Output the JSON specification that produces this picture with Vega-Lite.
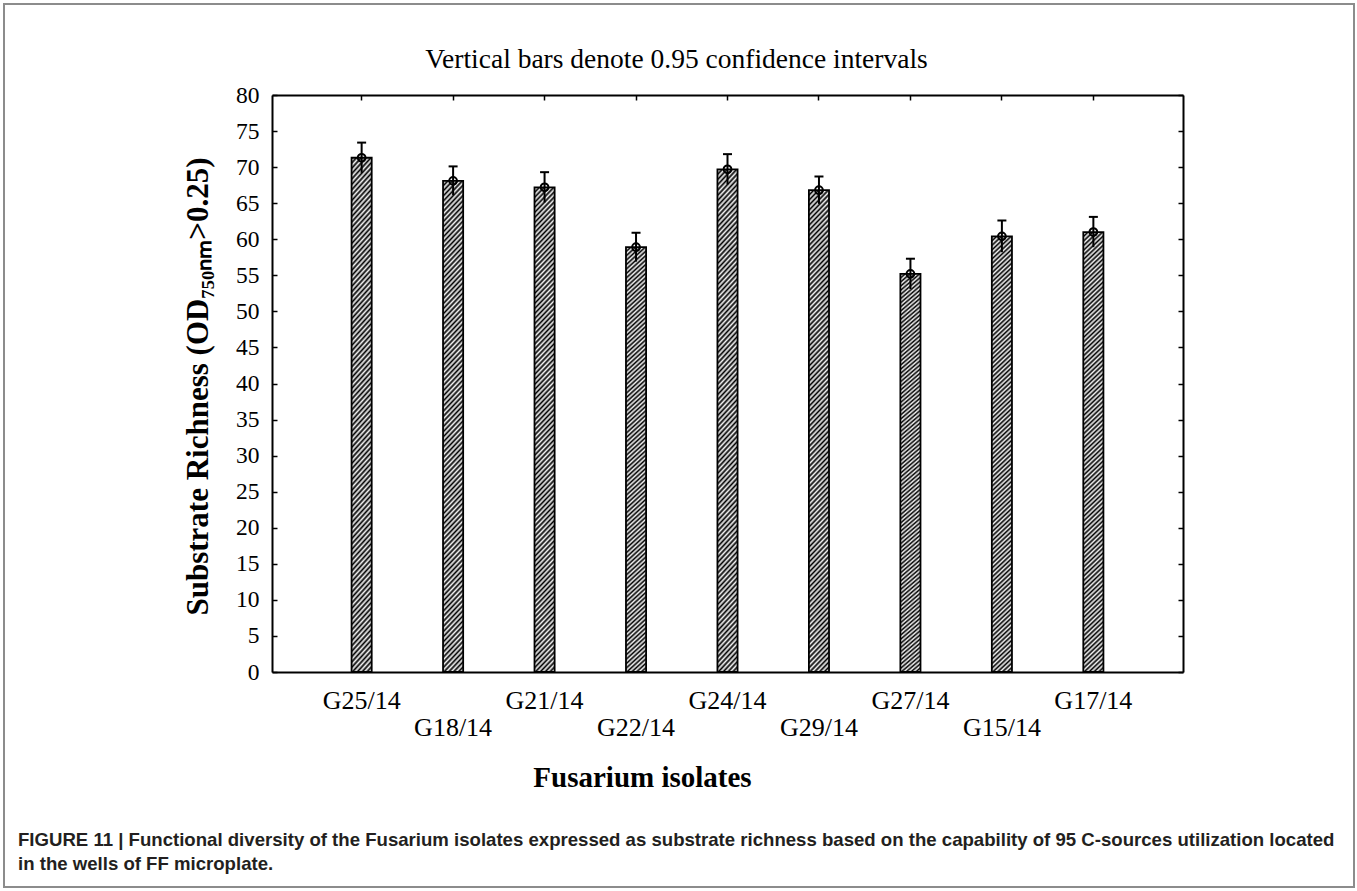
{
  "$schema": "https://vega.github.io/schema/vega-lite/v6.json",
  "autosize": "none",
  "width": 1350,
  "height": 883,
  "padding": {"left": 4, "top": 4, "right": 3, "bottom": 4},
  "background": "#ffffff",
  "title": {
    "text": ["FIGURE 11 | Functional diversity of the Fusarium isolates expressed as substrate richness based on the capability of 95 C-sources utilization located", "in the wells of FF microplate."],
    "orient": "bottom", "anchor": "start", "frame": "group", "offset": -56, "dx": 14,
    "font": "Liberation Sans", "fontSize": 18.6, "fontWeight": "bold", "color": "#231f20", "lineHeight": 24, "baseline": "top"
  },
  "data": {"values": [
    {"isolate": "G25/14", "mean": 71.3, "lower": 69.2, "upper": 73.4},
    {"isolate": "G18/14", "mean": 68.1, "lower": 66.1, "upper": 70.1},
    {"isolate": "G21/14", "mean": 67.2, "lower": 65.1, "upper": 69.3},
    {"isolate": "G22/14", "mean": 58.9, "lower": 56.9, "upper": 60.9},
    {"isolate": "G24/14", "mean": 69.7, "lower": 67.6, "upper": 71.8},
    {"isolate": "G29/14", "mean": 66.8, "lower": 64.9, "upper": 68.7},
    {"isolate": "G27/14", "mean": 55.2, "lower": 53.1, "upper": 57.3},
    {"isolate": "G15/14", "mean": 60.4, "lower": 58.2, "upper": 62.6},
    {"isolate": "G17/14", "mean": 61.0, "lower": 58.9, "upper": 63.1}
  ]},
  "resolve": {"axis": {"x": "independent", "y": "independent"}},
  "layer": [
    {
      "mark": {"type": "bar", "stroke": "#000", "strokeWidth": 1.8,
        "fill": {"gradient": "linear", "x1": 0, "y1": 0, "x2": 0.0453, "y2": 1.0415, "stops": [
{"offset":0,"color":"#000"},{"offset":0.005,"color":"#f4f4f4"},{"offset":0.01,"color":"#000"},{"offset":0.015,"color":"#f4f4f4"},{"offset":0.02,"color":"#000"},{"offset":0.025,"color":"#f4f4f4"},{"offset":0.03,"color":"#000"},{"offset":0.035,"color":"#f4f4f4"},{"offset":0.04,"color":"#000"},{"offset":0.045,"color":"#f4f4f4"},
{"offset":0.05,"color":"#000"},{"offset":0.055,"color":"#f4f4f4"},{"offset":0.06,"color":"#000"},{"offset":0.065,"color":"#f4f4f4"},{"offset":0.07,"color":"#000"},{"offset":0.075,"color":"#f4f4f4"},{"offset":0.08,"color":"#000"},{"offset":0.085,"color":"#f4f4f4"},{"offset":0.09,"color":"#000"},{"offset":0.095,"color":"#f4f4f4"},
{"offset":0.10,"color":"#000"},{"offset":0.105,"color":"#f4f4f4"},{"offset":0.11,"color":"#000"},{"offset":0.115,"color":"#f4f4f4"},{"offset":0.12,"color":"#000"},{"offset":0.125,"color":"#f4f4f4"},{"offset":0.13,"color":"#000"},{"offset":0.135,"color":"#f4f4f4"},{"offset":0.14,"color":"#000"},{"offset":0.145,"color":"#f4f4f4"},
{"offset":0.15,"color":"#000"},{"offset":0.155,"color":"#f4f4f4"},{"offset":0.16,"color":"#000"},{"offset":0.165,"color":"#f4f4f4"},{"offset":0.17,"color":"#000"},{"offset":0.175,"color":"#f4f4f4"},{"offset":0.18,"color":"#000"},{"offset":0.185,"color":"#f4f4f4"},{"offset":0.19,"color":"#000"},{"offset":0.195,"color":"#f4f4f4"},
{"offset":0.20,"color":"#000"},{"offset":0.205,"color":"#f4f4f4"},{"offset":0.21,"color":"#000"},{"offset":0.215,"color":"#f4f4f4"},{"offset":0.22,"color":"#000"},{"offset":0.225,"color":"#f4f4f4"},{"offset":0.23,"color":"#000"},{"offset":0.235,"color":"#f4f4f4"},{"offset":0.24,"color":"#000"},{"offset":0.245,"color":"#f4f4f4"},
{"offset":0.25,"color":"#000"},{"offset":0.255,"color":"#f4f4f4"},{"offset":0.26,"color":"#000"},{"offset":0.265,"color":"#f4f4f4"},{"offset":0.27,"color":"#000"},{"offset":0.275,"color":"#f4f4f4"},{"offset":0.28,"color":"#000"},{"offset":0.285,"color":"#f4f4f4"},{"offset":0.29,"color":"#000"},{"offset":0.295,"color":"#f4f4f4"},
{"offset":0.30,"color":"#000"},{"offset":0.305,"color":"#f4f4f4"},{"offset":0.31,"color":"#000"},{"offset":0.315,"color":"#f4f4f4"},{"offset":0.32,"color":"#000"},{"offset":0.325,"color":"#f4f4f4"},{"offset":0.33,"color":"#000"},{"offset":0.335,"color":"#f4f4f4"},{"offset":0.34,"color":"#000"},{"offset":0.345,"color":"#f4f4f4"},
{"offset":0.35,"color":"#000"},{"offset":0.355,"color":"#f4f4f4"},{"offset":0.36,"color":"#000"},{"offset":0.365,"color":"#f4f4f4"},{"offset":0.37,"color":"#000"},{"offset":0.375,"color":"#f4f4f4"},{"offset":0.38,"color":"#000"},{"offset":0.385,"color":"#f4f4f4"},{"offset":0.39,"color":"#000"},{"offset":0.395,"color":"#f4f4f4"},
{"offset":0.40,"color":"#000"},{"offset":0.405,"color":"#f4f4f4"},{"offset":0.41,"color":"#000"},{"offset":0.415,"color":"#f4f4f4"},{"offset":0.42,"color":"#000"},{"offset":0.425,"color":"#f4f4f4"},{"offset":0.43,"color":"#000"},{"offset":0.435,"color":"#f4f4f4"},{"offset":0.44,"color":"#000"},{"offset":0.445,"color":"#f4f4f4"},
{"offset":0.45,"color":"#000"},{"offset":0.455,"color":"#f4f4f4"},{"offset":0.46,"color":"#000"},{"offset":0.465,"color":"#f4f4f4"},{"offset":0.47,"color":"#000"},{"offset":0.475,"color":"#f4f4f4"},{"offset":0.48,"color":"#000"},{"offset":0.485,"color":"#f4f4f4"},{"offset":0.49,"color":"#000"},{"offset":0.495,"color":"#f4f4f4"},
{"offset":0.50,"color":"#000"},{"offset":0.505,"color":"#f4f4f4"},{"offset":0.51,"color":"#000"},{"offset":0.515,"color":"#f4f4f4"},{"offset":0.52,"color":"#000"},{"offset":0.525,"color":"#f4f4f4"},{"offset":0.53,"color":"#000"},{"offset":0.535,"color":"#f4f4f4"},{"offset":0.54,"color":"#000"},{"offset":0.545,"color":"#f4f4f4"},
{"offset":0.55,"color":"#000"},{"offset":0.555,"color":"#f4f4f4"},{"offset":0.56,"color":"#000"},{"offset":0.565,"color":"#f4f4f4"},{"offset":0.57,"color":"#000"},{"offset":0.575,"color":"#f4f4f4"},{"offset":0.58,"color":"#000"},{"offset":0.585,"color":"#f4f4f4"},{"offset":0.59,"color":"#000"},{"offset":0.595,"color":"#f4f4f4"},
{"offset":0.60,"color":"#000"},{"offset":0.605,"color":"#f4f4f4"},{"offset":0.61,"color":"#000"},{"offset":0.615,"color":"#f4f4f4"},{"offset":0.62,"color":"#000"},{"offset":0.625,"color":"#f4f4f4"},{"offset":0.63,"color":"#000"},{"offset":0.635,"color":"#f4f4f4"},{"offset":0.64,"color":"#000"},{"offset":0.645,"color":"#f4f4f4"},
{"offset":0.65,"color":"#000"},{"offset":0.655,"color":"#f4f4f4"},{"offset":0.66,"color":"#000"},{"offset":0.665,"color":"#f4f4f4"},{"offset":0.67,"color":"#000"},{"offset":0.675,"color":"#f4f4f4"},{"offset":0.68,"color":"#000"},{"offset":0.685,"color":"#f4f4f4"},{"offset":0.69,"color":"#000"},{"offset":0.695,"color":"#f4f4f4"},
{"offset":0.70,"color":"#000"},{"offset":0.705,"color":"#f4f4f4"},{"offset":0.71,"color":"#000"},{"offset":0.715,"color":"#f4f4f4"},{"offset":0.72,"color":"#000"},{"offset":0.725,"color":"#f4f4f4"},{"offset":0.73,"color":"#000"},{"offset":0.735,"color":"#f4f4f4"},{"offset":0.74,"color":"#000"},{"offset":0.745,"color":"#f4f4f4"},
{"offset":0.75,"color":"#000"},{"offset":0.755,"color":"#f4f4f4"},{"offset":0.76,"color":"#000"},{"offset":0.765,"color":"#f4f4f4"},{"offset":0.77,"color":"#000"},{"offset":0.775,"color":"#f4f4f4"},{"offset":0.78,"color":"#000"},{"offset":0.785,"color":"#f4f4f4"},{"offset":0.79,"color":"#000"},{"offset":0.795,"color":"#f4f4f4"},
{"offset":0.80,"color":"#000"},{"offset":0.805,"color":"#f4f4f4"},{"offset":0.81,"color":"#000"},{"offset":0.815,"color":"#f4f4f4"},{"offset":0.82,"color":"#000"},{"offset":0.825,"color":"#f4f4f4"},{"offset":0.83,"color":"#000"},{"offset":0.835,"color":"#f4f4f4"},{"offset":0.84,"color":"#000"},{"offset":0.845,"color":"#f4f4f4"},
{"offset":0.85,"color":"#000"},{"offset":0.855,"color":"#f4f4f4"},{"offset":0.86,"color":"#000"},{"offset":0.865,"color":"#f4f4f4"},{"offset":0.87,"color":"#000"},{"offset":0.875,"color":"#f4f4f4"},{"offset":0.88,"color":"#000"},{"offset":0.885,"color":"#f4f4f4"},{"offset":0.89,"color":"#000"},{"offset":0.895,"color":"#f4f4f4"},
{"offset":0.90,"color":"#000"},{"offset":0.905,"color":"#f4f4f4"},{"offset":0.91,"color":"#000"},{"offset":0.915,"color":"#f4f4f4"},{"offset":0.92,"color":"#000"},{"offset":0.925,"color":"#f4f4f4"},{"offset":0.93,"color":"#000"},{"offset":0.935,"color":"#f4f4f4"},{"offset":0.94,"color":"#000"},{"offset":0.945,"color":"#f4f4f4"},
{"offset":0.95,"color":"#000"},{"offset":0.955,"color":"#f4f4f4"},{"offset":0.96,"color":"#000"},{"offset":0.965,"color":"#f4f4f4"},{"offset":0.97,"color":"#000"},{"offset":0.975,"color":"#f4f4f4"},{"offset":0.98,"color":"#000"},{"offset":0.985,"color":"#f4f4f4"},{"offset":0.99,"color":"#000"},{"offset":0.995,"color":"#f4f4f4"},
{"offset":1,"color":"#000"}
        ]}
      },
      "encoding": {
        "x": {"field": "isolate", "type": "nominal", "sort": null,
          "scale": {"type": "band", "range": [268, 1179], "paddingInner": 0.78, "paddingOuter": 0.87},
          "axis": {"orient": "bottom", "offset": -215, "title": "Fusarium isolates",
            "labelAngle": 0, "labelFontSize": 26, "labelBaseline": "top", "labelAlign": "center",
            "labelPadding": {"condition": {"test": "indexof(['G18/14','G22/14','G29/14','G15/14'], datum.value) >= 0", "value": 47}, "value": 20},
            "tickSize": -5,
            "titleFontSize": 29, "titleFontWeight": "bold", "titleX": 638, "titleY": 105, "titleAlign": "center", "titleBaseline": "middle"}},
        "y": {"field": "mean", "type": "quantitative",
          "scale": {"domain": [0, 80], "range": [668, 91], "nice": false},
          "axis": {"orient": "left", "offset": -268, "title": "Substrate Richness (OD₇₅₀ₙₘ>0.25)",
            "values": [0,5,10,15,20,25,30,35,40,45,50,55,60,65,70,75,80],
            "labelFontSize": 23.5, "labelPadding": 18, "tickSize": -5,
            "titleFontSize": 31, "titleFontWeight": "bold", "titleX": -74, "titleY": 382, "titleAngle": 270, "titleAlign": "center", "titleBaseline": "middle"}}
      }
    },
    {
      "mark": {"type": "rule", "stroke": "#000", "strokeWidth": 2},
      "encoding": {
        "x": {"field": "isolate", "type": "nominal", "sort": null,
          "scale": {"type": "band", "range": [268, 1179], "paddingInner": 0.78, "paddingOuter": 0.87},
          "axis": {"orient": "top", "offset": -91, "labels": false, "tickSize": -5,
            "title": "Vertical bars denote 0.95 confidence intervals",
            "titleFontSize": 27.5, "titleFontWeight": "normal", "titleX": 672, "titleY": -36, "titleAlign": "center", "titleBaseline": "middle"}},
        "y": {"field": "lower", "type": "quantitative",
          "scale": {"domain": [0, 80], "range": [668, 91], "nice": false},
          "axis": {"orient": "right", "offset": -171, "labels": false, "tickSize": -5, "title": null,
            "values": [0,5,10,15,20,25,30,35,40,45,50,55,60,65,70,75,80]}},
        "y2": {"field": "upper"}
      }
    },
    {
      "mark": {"type": "tick", "orient": "horizontal", "color": "#000", "size": 9, "thickness": 2, "opacity": 1},
      "encoding": {
        "x": {"field": "isolate", "type": "nominal", "sort": null, "axis": null},
        "y": {"field": "upper", "type": "quantitative", "axis": null}
      }
    },
    {
      "mark": {"type": "point", "shape": "circle", "filled": false, "stroke": "#000", "strokeWidth": 2, "size": 60, "opacity": 1},
      "encoding": {
        "x": {"field": "isolate", "type": "nominal", "sort": null, "axis": null},
        "y": {"field": "mean", "type": "quantitative", "axis": null}
      }
    }
  ],
  "config": {
    "view": {"stroke": "#8c8c8c", "strokeWidth": 2},
    "axis": {"grid": false, "domainColor": "#000", "domainWidth": 2, "tickColor": "#000", "tickWidth": 1.5,
      "labelFont": "Liberation Serif", "labelColor": "#000", "titleFont": "Liberation Serif", "titleColor": "#000"}
  }
}
